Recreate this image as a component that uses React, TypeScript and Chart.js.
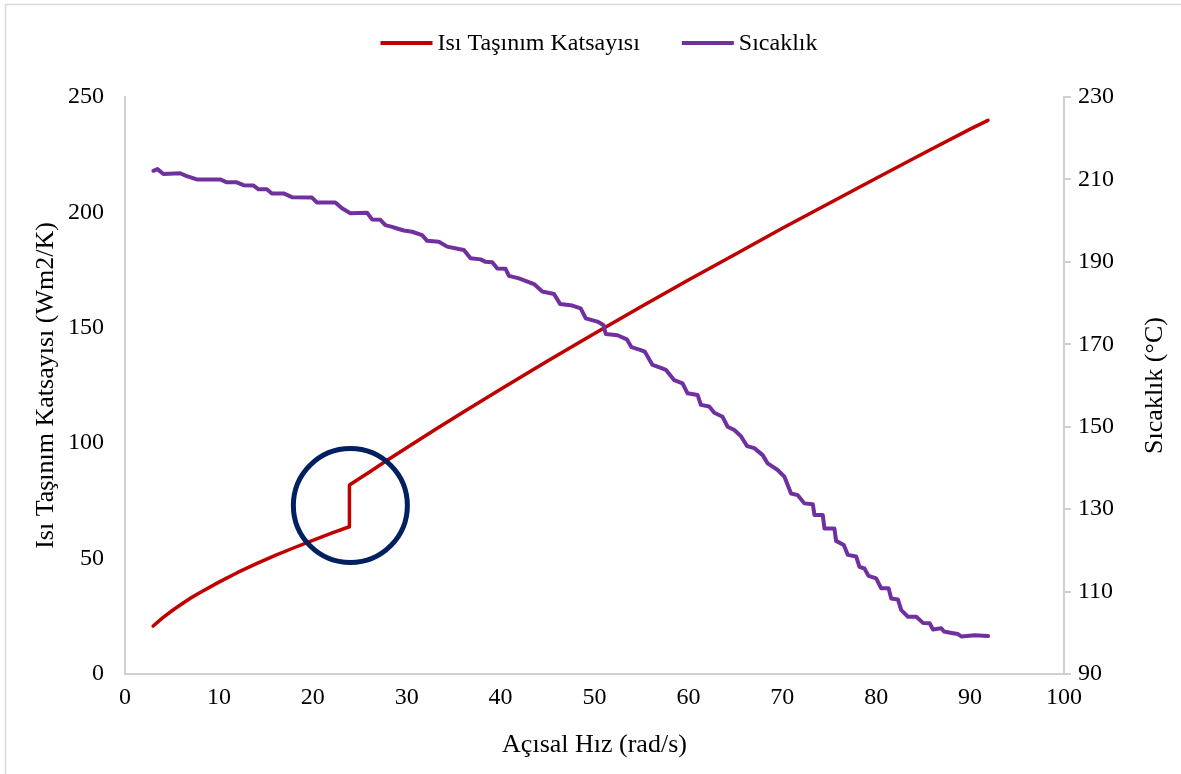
import React, { useEffect, useRef } from "react";
import { Chart, registerables } from "chart.js";

Chart.register(...registerables);

// Heat transfer coefficient vs angular speed
const hX = [3, 4, 5, 6, 7, 8, 10, 12, 14, 16, 18, 20, 22, 23.9, 23.9, 26, 28, 30, 33, 36, 40, 45, 50, 55, 60, 65, 70, 75, 80, 85, 90, 91.9];
const hVal = [20.8, 24.3, 27.4, 30.2, 32.9, 35.3, 39.8, 44.0, 47.8, 51.4, 54.7, 57.9, 61.0, 63.8, 81.9, 87.4, 92.8, 98.0, 105.8, 113.4, 123.4, 135.6, 147.5, 159.2, 170.7, 181.9, 193.1, 204.0, 214.8, 225.5, 236.1, 239.9];

// Temperature vs angular speed (stair-stepped sensor readings)
const tempX = [
  3.02, 3.45, 4.09, 5.87, 6.58, 7.65, 10.13, 10.85, 11.91, 12.62,
  13.69, 14.22, 15.11, 15.64, 16.89, 17.78, 19.91, 20.45, 22.40, 23.11,
  24.0, 25.78, 26.31, 27.2, 27.73, 28.44, 28.98, 29.69, 30.58, 31.64,
  32.18, 33.42, 34.31, 35.55, 36.09, 36.80, 37.87, 38.4, 39.11, 39.65,
  40.53, 40.89, 41.95, 43.56, 44.44, 45.69, 46.33, 47.64, 48.53, 49.07,
  50.31, 50.95, 51.2, 52.45, 53.44, 53.94, 54.93, 55.36, 56.18, 57.07,
  57.6, 58.49, 59.38, 59.91, 60.98, 61.33, 62.22, 62.76, 63.64, 64.18,
  64.89, 65.6, 66.24, 67.02, 67.91, 68.44, 69.51, 70.22, 70.93, 71.65,
  72.35, 73.25, 73.42, 74.31, 74.49, 75.55, 75.73, 76.55, 76.98, 77.87,
  78.22, 78.75, 79.18, 80.0, 80.53, 81.32, 81.6, 82.31, 82.67, 83.38,
  84.27, 84.98, 85.69, 86.05, 86.93, 87.22, 88.18, 88.71, 89.07, 90.49,
  91.91,
];
const tempC = [
  212.1, 212.5, 211.3, 211.5, 210.8, 210.0, 210.0, 209.3, 209.3, 208.6,
  208.5, 207.6, 207.6, 206.6, 206.6, 205.7, 205.6, 204.4, 204.4, 203.0,
  201.8, 201.9, 200.3, 200.2, 198.9, 198.5, 198.1, 197.6, 197.3, 196.5,
  195.1, 194.9, 193.7, 193.1, 192.9, 190.9, 190.6, 190.0, 189.9, 188.4,
  188.3, 186.6, 186.0, 184.6, 182.8, 182.2, 179.8, 179.4, 178.7, 176.3,
  175.5, 174.7, 172.5, 172.2, 171.2, 169.3, 168.6, 168.2, 165.0, 164.3,
  163.8, 161.3, 160.5, 158.1, 157.7, 155.3, 154.9, 153.4, 152.4, 150.0,
  149.2, 147.7, 145.3, 144.8, 143.1, 141.1, 139.5, 137.9, 133.8, 133.4,
  131.4, 131.2, 128.6, 128.6, 125.3, 125.3, 122.3, 121.3, 118.9, 118.5,
  116.0, 115.6, 113.8, 113.2, 110.8, 110.8, 108.3, 108.1, 105.5, 103.9,
  103.9, 102.4, 102.3, 100.8, 101.1, 100.3, 99.9, 99.7, 99.1, 99.4,
  99.2,
];

// Axis ranges
const xRange = [0, 100, 10];
const hRange = [0, 250, 50];
const tRange = [90, 230, 20];

// Transition region marker (x in rad/s, y in W/m2K)
const markX = 24.0;
const markY = 73;

const H_LABEL = "Isı Taşınım Katsayısı";
const T_LABEL = "Sıcaklık";
const X_TITLE = "Açısal Hız (rad/s)";
const H_TITLE = "Isı Taşınım Katsayısı (Wm2/K)";
const T_TITLE = "Sıcaklık (°C)";

const RED = "#C00000";
const PURPLE = "#7030A0";
const NAVY = "#002060";
const AXIS = "#D0D0D0";
const FONT = "'Liberation Serif', 'Times New Roman', serif";

const W = 1181;
const H = 774;

const framePlugin = {
  id: "frame",
  beforeDraw(chart: any) {
    const { ctx } = chart;
    ctx.save();
    ctx.fillStyle = "#fff";
    ctx.fillRect(0, 0, W, H);
    ctx.strokeStyle = "#D9D9D9";
    ctx.lineWidth = 1.5;
    ctx.strokeRect(5.5, 4.5, W + 20, H + 20);
    ctx.restore();
  },
};

const markerPlugin = {
  id: "marker",
  afterDatasetsDraw(chart: any) {
    const { ctx } = chart;
    const cx = chart.scales.x.getPixelForValue(markX);
    const cy = chart.scales.y.getPixelForValue(markY);
    ctx.save();
    ctx.strokeStyle = NAVY;
    ctx.lineWidth = 5;
    ctx.beginPath();
    ctx.arc(cx, cy, 57, 0, Math.PI * 2);
    ctx.stroke();
    ctx.restore();
  },
};

const legendAndTitlePlugin = {
  id: "legendAndTitle",
  afterDraw(chart: any) {
    const { ctx } = chart;
    ctx.save();
    ctx.font = `24px ${FONT}`;
    ctx.textBaseline = "middle";
    ctx.textAlign = "left";
    const items = [
      { label: H_LABEL, color: RED },
      { label: T_LABEL, color: PURPLE },
    ];
    const lineLen = 52;
    const gap = 5;
    const spacing = 42;
    const widths = items.map((it) => lineLen + gap + ctx.measureText(it.label).width);
    const total = widths.reduce((a, b) => a + b, 0) + spacing * (items.length - 1);
    let x = 599 - total / 2;
    const y = 43;
    items.forEach((it, i) => {
      ctx.strokeStyle = it.color;
      ctx.lineWidth = 4;
      ctx.beginPath();
      ctx.moveTo(x, y);
      ctx.lineTo(x + lineLen, y);
      ctx.stroke();
      ctx.fillStyle = "#000";
      ctx.fillText(it.label, x + lineLen + gap, y + 1);
      x += widths[i] + spacing;
    });

    // right axis title, reading bottom to top
    const area = chart.chartArea;
    ctx.font = `26px ${FONT}`;
    ctx.textAlign = "center";
    ctx.translate(1155, (area.top + area.bottom) / 2);
    ctx.rotate(-Math.PI / 2);
    ctx.fillText(T_TITLE, 0, 0);
    ctx.restore();
  },
};

export default function App() {
  const ref = useRef<HTMLCanvasElement>(null);

  useEffect(() => {
    const tickFont = { family: FONT, size: 24 };
    const titleFont = { family: FONT, size: 26 };
    const chart = new Chart(ref.current as HTMLCanvasElement, {
      type: "scatter",
      data: {
        datasets: [
          {
            label: H_LABEL,
            data: hX.map((x, i) => ({ x, y: hVal[i] })),
            showLine: true,
            borderColor: RED,
            backgroundColor: RED,
            borderWidth: 3.5,
            borderJoinStyle: "round",
            borderCapStyle: "round",
            pointRadius: 0,
            tension: 0,
            yAxisID: "y",
            order: 1,
          },
          {
            label: T_LABEL,
            data: tempX.map((x, i) => ({ x, y: tempC[i] })),
            showLine: true,
            borderColor: PURPLE,
            backgroundColor: PURPLE,
            borderWidth: 4,
            borderJoinStyle: "round",
            borderCapStyle: "round",
            pointRadius: 0,
            tension: 0,
            yAxisID: "y1",
            order: 0,
          },
        ],
      },
      options: {
        responsive: false,
        animation: false,
        devicePixelRatio: 1,
        layout: { padding: { top: 97, left: 0, right: 0, bottom: 0 } },
        plugins: {
          legend: { display: false },
          tooltip: { enabled: false },
        },
        scales: {
          x: {
            type: "linear",
            position: "bottom",
            min: xRange[0],
            max: xRange[1],
            ticks: { stepSize: xRange[2], font: tickFont, color: "#000", padding: 9, maxRotation: 0 },
            grid: { display: true, drawOnChartArea: false, drawTicks: false },
            border: { display: true, color: AXIS, width: 2 },
            title: { display: true, text: X_TITLE, font: titleFont, color: "#000", padding: { top: 0, bottom: 13 } },
            afterFit: (s: any) => {
              s.height = 100;
            },
          },
          y: {
            type: "linear",
            position: "left",
            min: hRange[0],
            max: hRange[1],
            ticks: { stepSize: hRange[2], font: tickFont, color: "#000", padding: 21 },
            grid: { display: true, drawOnChartArea: false, drawTicks: false },
            border: { display: true, color: AXIS, width: 2 },
            title: { display: true, text: H_TITLE, font: titleFont, color: "#000", padding: { top: 31, bottom: 0 } },
            afterFit: (s: any) => {
              s.width = 125;
            },
          },
          y1: {
            type: "linear",
            position: "right",
            min: tRange[0],
            max: tRange[1],
            ticks: { stepSize: tRange[2], font: tickFont, color: "#000", padding: 7 },
            grid: { display: true, drawOnChartArea: false, drawTicks: true, tickLength: 7, color: AXIS, lineWidth: 2 },
            border: { display: true, color: AXIS, width: 2 },
            title: { display: false },
            afterFit: (s: any) => {
              s.width = W - 1064;
            },
          },
        },
      } as any,
      plugins: [framePlugin, markerPlugin, legendAndTitlePlugin],
    });
    return () => chart.destroy();
  }, []);

  return (
    <div style={{ position: "fixed", left: 0, top: 0, width: W, height: H, background: "#fff" }}>
      <canvas ref={ref} width={W} height={H} style={{ display: "block", width: W, height: H }} />
    </div>
  );
}
